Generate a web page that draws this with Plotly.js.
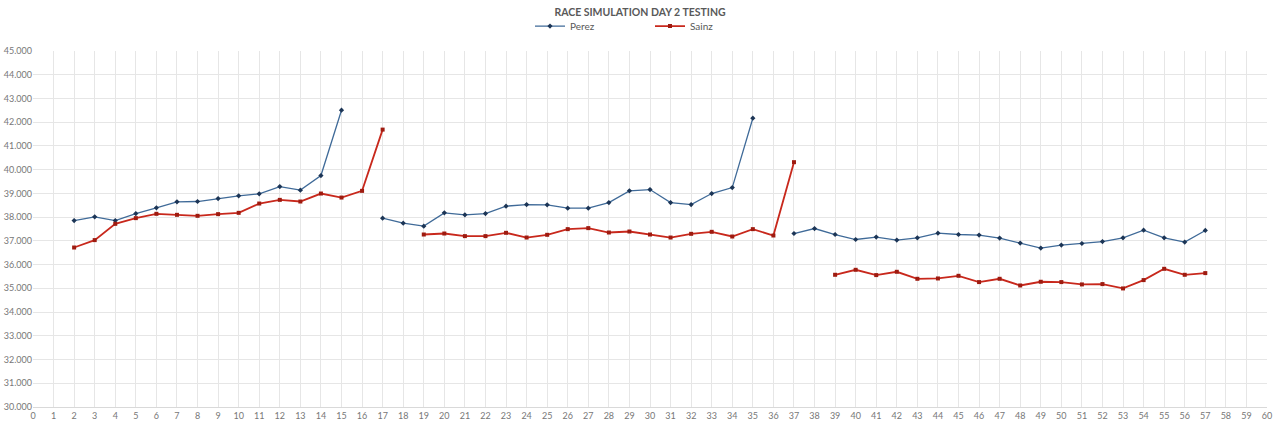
<!DOCTYPE html>
<html>
<head>
<meta charset="utf-8">
<script src="https://cdn.plot.ly/plotly-3.0.1.min.js"></script>
<style>
  html, body { margin: 0; padding: 0; background: #fff; }
  #chart { width: 1280px; height: 428px; }
</style>
</head>
<body>
<div id="chart"></div>
<script>
// lap numbers
var laps = [];
for (var i = 2; i <= 57; i++) laps.push(i);

// lap times (null = pit lap, no point)
var perez = [
  37857, 38013, 37857, 38152, 38392, 38644, 38658, 38783, 38897, 38981,
  39288, 39137, 39752, 42505, null, 37958, 37747, 37621, 38181, 38097,
  38152, 38463, 38531, 38518, 38379, 38379, 38615, 39107, 39162, 38615,
  38531, 38994, 39246, 42168, null, 37310, 37520, 37268, 37057, 37158,
  37032, 37128, 37326, 37268, 37242, 37116, 36905, 36695, 36821, 36888,
  36972, 37128, 37452, 37128, 36947, 37438
];

var sainz = [
  36720, 37032, 37718, 37958, 38139, 38097, 38055, 38126, 38181, 38573,
  38728, 38658, 38994, 38825, 39107, 41688, null, 37268, 37310, 37200,
  37200, 37339, 37141, 37255, 37494, 37537, 37352, 37394, 37268, 37141,
  37297, 37381, 37184, 37494, 37226, 40316, null, 35571, 35781, 35558,
  35697, 35402, 35416, 35528, 35263, 35402, 35121, 35277, 35263, 35165,
  35179, 34996, 35347, 35823, 35571, 35642
];

var trace1 = {
  x: laps,
  y: perez,
  name: 'Perez',
  type: 'scatter',
  mode: 'lines+markers',
  connectgaps: false,
  line: { color: '#3f6a98', width: 1.3 },
  marker: { symbol: 'diamond', size: 4, color: '#1c3556' }
};

var trace2 = {
  x: laps,
  y: sainz,
  name: 'Sainz',
  type: 'scatter',
  mode: 'lines+markers',
  connectgaps: false,
  line: { color: '#c8281c', width: 1.8 },
  marker: { symbol: 'square', size: 4, color: '#9e1b10' }
};

var layout = {
  width: 1280,
  height: 428,
  margin: { l: 33, r: 13, t: 51, b: 21 },
  paper_bgcolor: '#fff',
  plot_bgcolor: '#fff',
  separators: ',.',
  font: { family: 'Lato, "Open Sans", sans-serif', size: 9, color: '#777' },
  title: {
    text: 'RACE SIMULATION DAY 2 TESTING',
    font: { family: 'Lato, "Open Sans", sans-serif', size: 10.5, color: '#595959', weight: 'bold' },
    x: 0.5, xanchor: 'center',
    y: 0.972, yanchor: 'middle'
  },
  showlegend: true,
  legend: {
    orientation: 'h',
    x: 0.5, xanchor: 'center',
    y: 1.07, yanchor: 'middle',
    font: { family: 'Lato, "Open Sans", sans-serif', size: 10, color: '#595959' },
    itemwidth: 30,
    entrywidth: 75,
    tracegroupgap: 0
  },
  xaxis: {
    range: [0, 60],
    dtick: 1,
    tick0: 0,
    showgrid: true,
    gridcolor: '#e6e6e6',
    gridwidth: 1,
    zeroline: false,
    showline: true,
    linecolor: '#d9d9d9',
    ticks: '',
    tickfont: { size: 9, color: '#777' },
    fixedrange: true
  },
  yaxis: {
    range: [30000, 45000],
    dtick: 1000,
    tick0: 30000,
    tickformat: ',d',
    showgrid: true,
    gridcolor: '#e6e6e6',
    gridwidth: 1,
    zeroline: false,
    showline: false,
    ticks: '',
    tickfont: { size: 9, color: '#777' },
    fixedrange: true
  }
};

Plotly.newPlot('chart', [trace1, trace2], layout, { staticPlot: true });
</script>
</body>
</html>
